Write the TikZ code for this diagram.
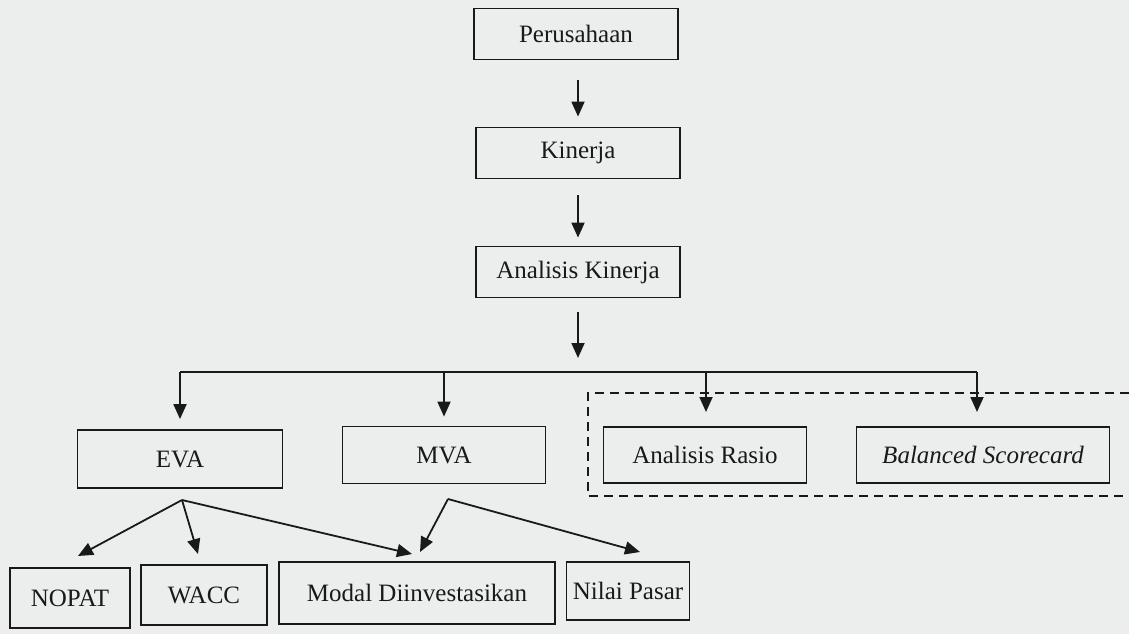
\documentclass[tikz,border=0pt]{standalone}
\usepackage{fontspec}
\setmainfont{Liberation Serif}
\usetikzlibrary{arrows.meta}
\definecolor{paper}{RGB}{236,238,238}
\definecolor{ink}{RGB}{25,25,25}
\begin{document}
\begin{tikzpicture}[x=1pt,y=-1pt,
  box/.style={draw=ink,line width=1.8pt,fill=paper,text=ink,inner sep=0pt,
    font=\fontsize{25}{30}\selectfont},
  arr/.style={draw=ink,line width=1.8pt,-{Triangle[length=15pt,width=13pt]}},
  ln/.style={draw=ink,line width=1.8pt},
  dash box/.style={draw=ink,line width=1.8pt,dash pattern=on 9pt off 6pt}]
\fill[paper] (0,0) rectangle (1129,634);
\useasboundingbox (0,0) rectangle (1129,634);
% top chain
\node[box,minimum width=204pt,minimum height=51pt] (per) at (576,34) {Perusahaan};
\node[box,minimum width=204pt,minimum height=51pt] (kin) at (578,153) {Kinerja};
\node[box,minimum width=204pt,minimum height=51pt] (ak) at (578,272) {Analisis Kinerja};
\draw[arr,shorten <=20pt,shorten >=10pt] (per.south -| kin.north) -- (kin.north);
\draw[arr,shorten <=16pt,shorten >=8pt] (kin.south) -- (ak.north);
% dashed group
\draw[dash box] (1129,393) -- (588,393) -- (588,496) -- (1129,496);
% second row
\node[box,minimum width=205pt,minimum height=58pt] (eva) at (180,459) {EVA};
\node[box,minimum width=203pt,minimum height=57pt] (mva) at (444,455) {MVA};
\node[box,minimum width=203pt,minimum height=56pt] (ar) at (705,455) {Analisis Rasio};
\node[box,minimum width=253pt,minimum height=56pt] (bsc) at (983,455) {\itshape Balanced Scorecard};
% bus
\coordinate (bus) at (578,372);
\coordinate (busL) at (180,372);
\coordinate (busR) at (977,372);
\draw[arr,shorten <=14pt,shorten >=14pt] (ak.south) -- (bus);
\draw[ln] (busL) -- (busR);
\draw[arr,shorten >=10pt] (busL) -- (eva.north);
\draw[arr,shorten >=9pt] (bus -| mva.north) -- (mva.north);
\draw[arr,shorten >=15pt] (bus -| 706,0) -- (706,427) coordinate (arTop);
\draw[arr,shorten >=15pt] (busR) -- (977,427) coordinate (bscTop);
% bottom row
\node[box,minimum width=120pt,minimum height=60pt] (nopat) at (70,598) {NOPAT};
\node[box,minimum width=126pt,minimum height=60pt] (wacc) at (204,595) {WACC};
\node[box,minimum width=276pt,minimum height=62pt] (modal) at (417,593) {Modal Diinvestasikan};
\node[box,minimum width=123pt,minimum height=58pt] (nilai) at (628,591) {Nilai Pasar};
\coordinate (evaS) at (182,500);
\coordinate (mvaS) at (448,499);
\coordinate (tNopat) at (78,556);
\coordinate (tWacc) at (198,554);
\coordinate (tModalA) at (412,554);
\coordinate (tModalB) at (420,552);
\coordinate (tNilai) at (640,552);
\draw[arr] (evaS) -- (tNopat);
\draw[arr] (evaS) -- (tWacc);
\draw[arr] (evaS) -- (tModalA);
\draw[arr] (mvaS) -- (tModalB);
\draw[arr] (mvaS) -- (tNilai);
\end{tikzpicture}
\end{document}
